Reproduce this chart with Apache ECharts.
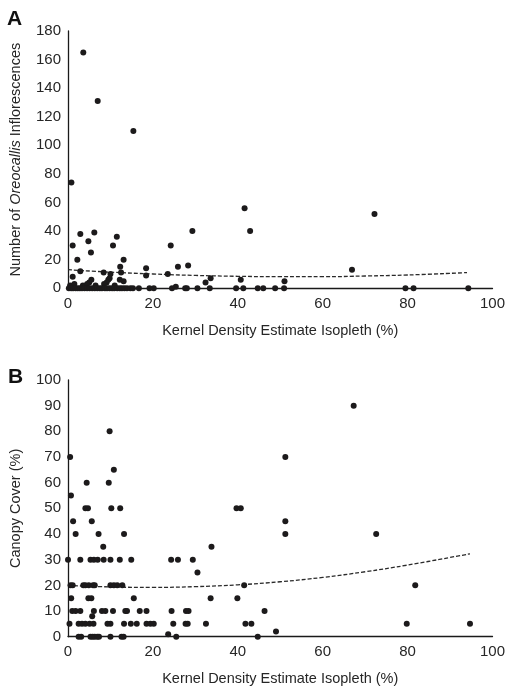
<!DOCTYPE html>
<html>
<head>
<meta charset="utf-8">
<script src="https://cdn.jsdelivr.net/npm/echarts@6/dist/echarts.min.js"></script>
<style>
  html, body { margin: 0; padding: 0; background: #fff; }
  #chart { width: 508px; height: 689px; }
</style>
</head>
<body>
<div id="chart"></div>
<script>
// Panel A: kernel density isopleth (%) vs. number of Oreocallis inflorescences
const inflorescencePoints = [
  [3.6,165],[7.0,131],[15.4,110],[0.8,74],[41.6,56],[72.2,52],[42.9,40],[29.3,40],
  [2.9,38],[6.2,39],[11.5,36],[1.1,30],[4.8,33],[10.6,30],[24.2,30],[2.2,20],
  [5.4,25],[13.1,20],[12.3,15],[18.4,14],[25.9,15],[28.3,16],[2.9,12],[8.4,11],
  [12.5,11],[10.0,10],[18.4,9],[23.5,10],[1.1,8],[9.8,7],[12.2,6],[13.1,5],
  [9.5,6],[9.1,4],[8.5,3],[5.5,6],[5.0,4],[33.6,7],[32.4,4],[40.7,6],[51.0,5],
  [66.9,13],[0.5,2],[1.5,3],[3.5,2],[4.5,3],[6.5,2],[11.0,2],[25.4,1],
  [0.2,0],[0.75,0],[1.2,0],[1.8,0],[2.3,0],[2.8,0],[3.3,0],[3.9,0],[4.5,0],[5.1,0],
  [5.7,0],[6.3,0],[6.9,0],[7.5,0],[8.0,0],[8.7,0],[9.2,0],[9.8,0],[10.4,0],[10.9,0],
  [11.6,0],[12.2,0],[12.7,0],[13.3,0],[13.9,0],[14.7,0],[15.3,0],[16.7,0],[19.2,0],
  [20.2,0],[24.5,0],[27.6,0],[28.0,0],[30.5,0],[33.4,0],[39.6,0],[41.3,0],[44.7,0],
  [46.0,0],[48.8,0],[50.9,0],[79.5,0],[81.4,0],[94.3,0]
];
// Fitted trend for panel A, read at these isopleth values
const trendX = [0, 10, 20, 30, 40, 50, 60, 70, 80, 94];
const trendA = [13, 11.3, 10, 9, 8.4, 8.1, 8.1, 8.6, 9.3, 11];

// Panel B: kernel density isopleth (%) vs. canopy cover (%)
const canopyPoints = [
  [0.5,70],[51.2,70],[67.3,90],[9.8,80],[10.8,65],[4.4,60],[9.6,60],[0.7,55],
  [4.1,50],[4.7,50],[10.2,50],[12.3,50],[39.7,50],[40.7,50],
  [1.2,45],[5.6,45],[51.2,45],
  [1.8,40],[7.2,40],[13.2,40],[51.2,40],[72.6,40],
  [8.3,35],[33.8,35],
  [0,30],[2.9,30],[5.3,30],[6.1,30],[7.0,30],[8.4,30],[10.0,30],[12.2,30],[14.9,30],
  [24.3,30],[25.9,30],[29.4,30],
  [30.5,25],
  [0.6,20],[1.1,20],[3.6,20],[4.1,20],[4.9,20],[5.9,20],[6.3,20],[10.0,20],[10.8,20],
  [11.6,20],[12.8,20],[41.5,20],[81.8,20],
  [0.75,15],[4.8,15],[5.5,15],[15.5,15],[33.6,15],[39.9,15],
  [1.0,10],[1.8,10],[2.9,10],[6.1,10],[8.0,10],[8.8,10],[10.6,10],[13.5,10],[13.9,10],
  [16.9,10],[18.5,10],[24.4,10],[27.8,10],[28.4,10],[46.3,10],
  [5.7,8],
  [0.35,5],[2.5,5],[3.3,5],[4.1,5],[5.1,5],[6.0,5],[9.3,5],[10.0,5],[13.2,5],[14.8,5],
  [16.2,5],[18.5,5],[19.4,5],[20.2,5],[24.8,5],[27.7,5],[28.2,5],[32.5,5],[41.8,5],
  [43.2,5],[79.8,5],[94.7,5],
  [49.0,2],[23.6,1],
  [2.5,0],[3.1,0],[5.3,0],[5.8,0],[6.3,0],[6.9,0],[7.3,0],[10.0,0],[12.6,0],[13.1,0],
  [25.5,0],[44.7,0]
];
const trendXB = [0, 10, 20, 30, 40, 50, 60, 70, 80, 94.7];
const trendB = [20, 19.4, 19.2, 19.5, 20.2, 21.4, 23.1, 25.3, 27.9, 32.3];

const xTicks = [0, 20, 40, 60, 80, 100];
const xTitle = 'Kernel Density Estimate Isopleth (%)';

const FONT = '"Liberation Sans", Arial, sans-serif';
const TEXT = '#262626';
const AXIS = '#1a1a1a';
const DOT = '#1c1a1b';
const TICK_SIZE = 15;
const TITLE_SIZE = 14.5;

const chart = echarts.init(document.getElementById('chart'), null, { renderer: 'canvas' });

function xAxisFor(gridIndex) {
  return {
    gridIndex, type: 'value', min: xTicks[0], max: xTicks[xTicks.length - 1], interval: 20,
    name: xTitle, nameLocation: 'middle', nameGap: 35,
    nameTextStyle: { fontFamily: FONT, fontSize: TITLE_SIZE, color: TEXT },
    axisLine: { show: true, onZero: false, lineStyle: { color: AXIS, width: 1.3 } },
    axisTick: { show: false },
    axisLabel: { fontFamily: FONT, fontSize: TICK_SIZE, color: TEXT, margin: 8 },
    splitLine: { show: false }
  };
}

const dotStyle = { color: DOT, opacity: 1 };
const trendStyle = { color: '#2a2a2a', width: 1.3, type: [4, 2] };

const option = {
  animation: false,
  backgroundColor: '#fff',
  title: [
    { text: 'A', left: 2, top: 4, textStyle: { fontFamily: FONT, fontSize: 21, fontWeight: 'bold', color: '#111' } },
    { text: 'B', left: 3, top: 362, textStyle: { fontFamily: FONT, fontSize: 21, fontWeight: 'bold', color: '#111' } }
  ],
  grid: [
    { left: 67.5, right: 15, top: 31, height: 257.3 },
    { left: 67.5, right: 15, top: 380, height: 256.7 }
  ],
  xAxis: [xAxisFor(0), xAxisFor(1)],
  yAxis: [
    {
      gridIndex: 0, type: 'value', min: 0, max: 180, interval: 20,
      name: '{n|Number of }{i|Oreocallis}{n| Inflorescences}',
      nameLocation: 'middle', nameGap: 45,
      nameTextStyle: {
        fontFamily: FONT, fontSize: TITLE_SIZE, color: TEXT,
        rich: {
          n: { fontFamily: FONT, fontSize: TITLE_SIZE, color: TEXT },
          i: { fontFamily: FONT, fontSize: TITLE_SIZE, color: TEXT, fontStyle: 'italic' }
        }
      },
      axisLine: { show: true, lineStyle: { color: AXIS, width: 1.3 } },
      axisTick: { show: false },
      axisLabel: { fontFamily: FONT, fontSize: TICK_SIZE, color: TEXT, margin: 7 },
      splitLine: { show: false }
    },
    {
      gridIndex: 1, type: 'value', min: 0, max: 100, interval: 10,
      name: 'Canopy Cover (%)', nameLocation: 'middle', nameGap: 45,
      nameTextStyle: { fontFamily: FONT, fontSize: TITLE_SIZE, color: TEXT },
      axisLine: { show: true, lineStyle: { color: AXIS, width: 1.3 } },
      axisTick: { show: false },
      axisLabel: { fontFamily: FONT, fontSize: TICK_SIZE, color: TEXT, margin: 7 },
      splitLine: { show: false }
    }
  ],
  series: [
    {
      type: 'scatter', xAxisIndex: 0, yAxisIndex: 0, data: inflorescencePoints,
      symbol: 'circle', symbolSize: 6, itemStyle: dotStyle, z: 3
    },
    {
      type: 'line', xAxisIndex: 0, yAxisIndex: 0,
      data: trendX.map((x, i) => [x, trendA[i]]),
      smooth: 0.4, showSymbol: false, silent: true, lineStyle: trendStyle, z: 2
    },
    {
      type: 'scatter', xAxisIndex: 1, yAxisIndex: 1, data: canopyPoints,
      symbol: 'circle', symbolSize: 6, itemStyle: dotStyle, z: 3
    },
    {
      type: 'line', xAxisIndex: 1, yAxisIndex: 1,
      data: trendXB.map((x, i) => [x, trendB[i]]),
      smooth: 0.4, showSymbol: false, silent: true, lineStyle: trendStyle, z: 2
    }
  ]
};

chart.setOption(option);
</script>
</body>
</html>
